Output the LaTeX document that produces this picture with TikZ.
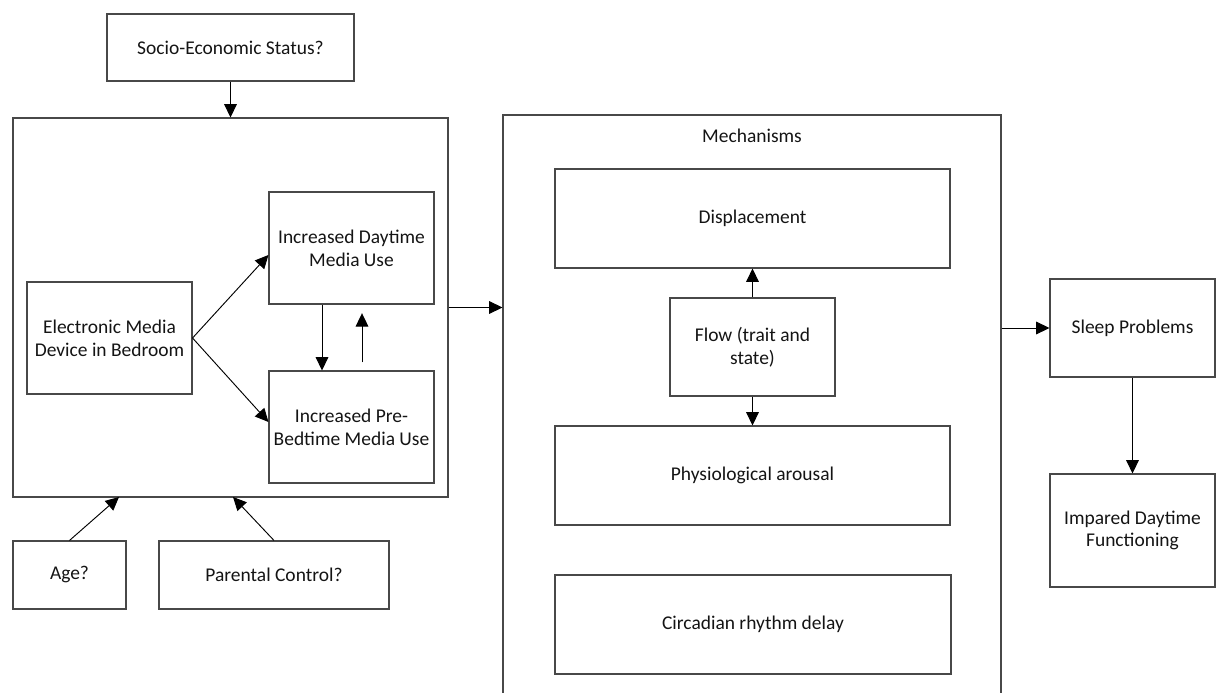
\documentclass[tikz,border=0pt]{standalone}
\usepackage{fontspec}
\setmainfont{Carlito}
\usetikzlibrary{arrows.meta,calc}
\definecolor{edge}{RGB}{72,72,72}
\definecolor{ink}{RGB}{20,20,20}
% \bx{name}{x1}{y1}{x2}{y2}{text}: a box spanning the given corners
\newcommand\bx[6]{\node[box,minimum width={(#4-#2)*0.75pt},minimum height={(#5-#3)*0.75pt}]
  (#1) at ({(#2+#4)/2},{(#3+#5)/2}) {#6};}
\begin{document}
\begin{tikzpicture}[x=0.75pt,y=-0.75pt,
  box/.style={draw=edge,line width=0.8pt,inner sep=0pt,align=center,text=ink,
    font=\fontsize{14.6}{17}\selectfont},
  link/.style={draw=black,line width=0.7pt,-{Triangle[length=10pt,width=9.5pt]}}]
\useasboundingbox (0,0) rectangle (1216,692);
\clip (0,0) rectangle (1216,692);
% left group
\bx{ses}{107}{14}{354}{81}{Socio-Economic Status?}
\bx{grp}{13}{118}{448}{497}{}
\bx{elec}{27}{282}{192}{394}{Electronic Media\\Device in Bedroom}
\bx{day}{269}{192}{434}{304}{Increased Daytime\\Media Use}
\bx{pre}{269}{371}{434}{483}{Increased Pre-\\Bedtime Media Use}
\bx{age}{13}{541}{126}{609}{Age?}
\bx{par}{159}{541}{389}{609}{Parental Control?}
% mechanisms
\bx{mech}{503}{115}{1001}{720}{}
\node[text=ink,font=\fontsize{14.6}{17}\selectfont] (mtitle) at (752,136) {Mechanisms};
\bx{disp}{555}{169}{950}{268}{Displacement}
\bx{flow}{670}{298}{835}{396}{Flow (trait and\\state)}
\bx{phys}{555}{426}{950}{525}{Physiological arousal}
\bx{circ}{555}{575}{951}{674}{Circadian rhythm delay}
% outcomes
\bx{sleep}{1050}{279}{1215}{377}{Sleep Problems}
\bx{imp}{1050}{474}{1215}{587}{Impared Daytime\\Functioning}
\coordinate (agetip) at (119,497);
\coordinate (partip) at (233,497);
% connectors
\draw[link] (ses.south) -- (ses.south |- grp.north);
\draw[link] (elec.east) -- ($(day.west)+(0,7)$);
\draw[link] (elec.east) -- ($(pre.west)+(0,-5)$);
\draw[link] ($(day.south)+(-29.5,0)$) -- ($(pre.north)+(-29.5,0)$);
\draw[link,shorten <=6pt,shorten >=6.5pt] ($(pre.north)+(10.5,0)$) -- ($(day.south)+(10.5,0)$);
\draw[link] (age.north) -- (agetip);
\draw[link] (par.north) -- (partip);
\draw[link] (grp.east) -- (grp.east -| mech.west);
\draw[link] (flow.north) -- (flow.north |- disp.south);
\draw[link] (flow.south) -- (flow.south |- phys.north);
\draw[link] (mech.east |- sleep.west) -- (sleep.west);
\draw[link] (sleep.south) -- (sleep.south |- imp.north);
\end{tikzpicture}
\end{document}
